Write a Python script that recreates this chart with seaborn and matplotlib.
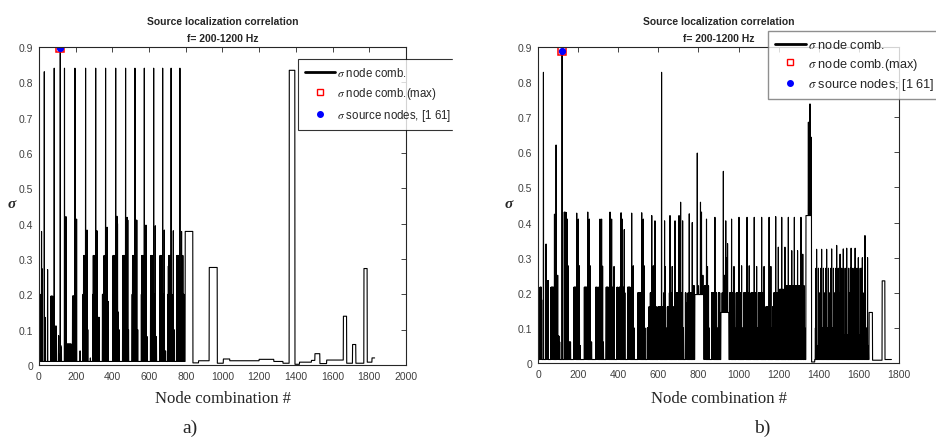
import numpy as np
import pandas as pd
import matplotlib
matplotlib.use('Agg')
import matplotlib.pyplot as plt
from matplotlib.lines import Line2D
from matplotlib.patches import Rectangle
import seaborn as sns

# ---- data ----
# panel a)
a_n = 1830
a_steps = [(0, 797, 0.01), (797, 839, 0.378), (839, 870, 0.006), (870, 928, 0.012),
           (928, 972, 0.276), (972, 1005, 0.005), (1005, 1040, 0.017), (1040, 1200, 0.012),
           (1200, 1280, 0.016), (1280, 1330, 0.01), (1330, 1364, 0.005), (1364, 1395, 0.834),
           (1395, 1420, 0.002), (1420, 1485, 0.008), (1485, 1504, 0.013), (1504, 1531, 0.032),
           (1531, 1568, 0.004), (1568, 1659, 0.014), (1659, 1677, 0.138), (1677, 1709, 0.005),
           (1709, 1727, 0.058), (1727, 1771, 0.005), (1771, 1789, 0.273), (1789, 1815, 0.008),
           (1815, 1830, 0.02)]
a_spikes = [
    (10, 0.2), (14, 0.378), (18, 0.272), (29, 0.83), (33, 0.135), (47, 0.27),
    (65, 0.195), (68, 0.195), (71, 0.195), (75, 0.195),
    (83, 0.84), (89, 0.11), (92, 0.11), (95, 0.11), (107, 0.083), (112, 0.03),
    (119, 0.055), (122, 0.05),
    (139, 0.84), (147, 0.42), (156, 0.06), (162, 0.06), (168, 0.06), (174, 0.06),
    (183, 0.195), (185, 0.195), (187, 0.195), (189, 0.195), (191, 0.195), (193, 0.195),
    (196, 0.84), (199, 0.2), (205, 0.413), (224, 0.04),
    (240, 0.2), (243, 0.31), (245, 0.31), (247, 0.31), (249, 0.31), (251, 0.31),
    (254, 0.84), (257, 0.2), (262, 0.382), (266, 0.1), (280, 0.02),
    (294, 0.2), (296, 0.31), (298, 0.31), (300, 0.31), (302, 0.31), (304, 0.31), (306, 0.31),
    (309, 0.84), (312, 0.2), (316, 0.38), (320, 0.135), (324, 0.135), (328, 0.135),
    (346, 0.2), (348, 0.2), (350, 0.2), (352, 0.2), (355, 0.31), (357, 0.31), (359, 0.31),
    (361, 0.31), (363, 0.84), (366, 0.2), (371, 0.39), (373, 0.18), (375, 0.18), (377, 0.18),
    (402, 0.2), (404, 0.31), (406, 0.31), (408, 0.31), (410, 0.31), (412, 0.31), (414, 0.31),
    (416, 0.31), (418, 0.84), (421, 0.2), (425, 0.421), (428, 0.4), (432, 0.15), (436, 0.1),
    (456, 0.2), (458, 0.31), (460, 0.31), (462, 0.31), (464, 0.31), (466, 0.31), (468, 0.31),
    (470, 0.31), (472, 0.84), (476, 0.2), (480, 0.418), (484, 0.41), (488, 0.1),
    (508, 0.2), (510, 0.31), (512, 0.31), (514, 0.31), (516, 0.31), (518, 0.31), (520, 0.31),
    (523, 0.84), (526, 0.2), (529, 0.41), (533, 0.41), (538, 0.1),
    (558, 0.2), (560, 0.31), (562, 0.31), (564, 0.31), (566, 0.31), (568, 0.31), (570, 0.31),
    (574, 0.84), (577, 0.2), (583, 0.396), (590, 0.08),
    (608, 0.2), (610, 0.31), (612, 0.31), (614, 0.31), (616, 0.31), (618, 0.31), (620, 0.31),
    (622, 0.31), (625, 0.84), (628, 0.2), (634, 0.394), (640, 0.08),
    (658, 0.2), (660, 0.31), (662, 0.31), (664, 0.31), (666, 0.31), (668, 0.31), (670, 0.31),
    (674, 0.84), (677, 0.2), (683, 0.382), (690, 0.04),
    (703, 0.2), (705, 0.28), (707, 0.31), (709, 0.31), (711, 0.31), (713, 0.31), (715, 0.31),
    (717, 0.31), (720, 0.84), (724, 0.2), (732, 0.38), (736, 0.1),
    (750, 0.2), (752, 0.31), (754, 0.31), (756, 0.31), (758, 0.31), (760, 0.31), (762, 0.31),
    (764, 0.31), (768, 0.84), (771, 0.2), (777, 0.378), (781, 0.31), (784, 0.31), (787, 0.2),
    (790, 0.2)]
a_max = (116, 0.897)

# panel b)
b_n = 1763
b_steps = [(0, 782, 0.01), (782, 827, 0.195), (827, 912, 0.01), (912, 952, 0.144),
           (952, 1336, 0.01), (1336, 1364, 0.42), (1364, 1380, 0.003), (1380, 1651, 0.01),
           (1651, 1668, 0.144), (1668, 1716, 0.008), (1716, 1730, 0.234), (1730, 1763, 0.01)]
b_spikes = [
    (10, 0.216), (12, 0.216), (14, 0.216), (16, 0.216), (18, 0.18), (27, 0.828), (40, 0.339),
    (42, 0.235), (44, 0.235), (46, 0.235), (48, 0.235), (50, 0.235),
    (65, 0.216), (67, 0.216), (69, 0.216), (71, 0.216), (73, 0.216), (75, 0.216), (77, 0.216),
    (82, 0.424), (90, 0.621), (94, 0.077), (96, 0.077), (98, 0.25), (100, 0.077), (102, 0.077),
    (104, 0.077), (108, 0.06),
    (131, 0.43), (135, 0.43), (140, 0.429), (146, 0.41), (150, 0.277), (153, 0.06), (156, 0.06),
    (159, 0.06), (162, 0.06),
    (179, 0.216), (181, 0.216), (183, 0.216), (185, 0.216), (187, 0.216), (189, 0.216),
    (193, 0.427), (197, 0.2), (201, 0.41), (206, 0.277), (210, 0.05),
    (231, 0.216), (233, 0.216), (235, 0.216), (237, 0.216), (239, 0.216), (241, 0.216),
    (243, 0.216), (246, 0.216), (248, 0.43), (252, 0.2), (256, 0.41), (260, 0.277), (264, 0.06),
    (267, 0.06),
    (288, 0.216), (290, 0.216), (292, 0.216), (294, 0.16), (296, 0.16), (298, 0.216),
    (300, 0.216), (304, 0.216), (309, 0.41), (313, 0.2), (317, 0.41), (322, 0.276), (326, 0.06),
    (340, 0.216), (342, 0.216), (344, 0.216), (346, 0.216), (348, 0.216), (350, 0.216),
    (352, 0.2), (355, 0.2), (359, 0.43), (363, 0.2), (367, 0.41), (371, 0.216), (374, 0.216),
    (379, 0.275),
    (394, 0.216), (396, 0.216), (398, 0.203), (400, 0.203), (402, 0.203), (404, 0.216),
    (406, 0.216), (408, 0.216), (410, 0.216), (414, 0.428), (417, 0.216), (420, 0.41),
    (423, 0.216), (426, 0.216), (430, 0.38), (433, 0.2),
    (447, 0.216), (449, 0.216), (451, 0.216), (453, 0.216), (455, 0.216), (457, 0.216),
    (459, 0.216), (462, 0.2), (467, 0.427), (471, 0.2), (475, 0.277), (479, 0.1),
    (498, 0.2), (500, 0.2), (502, 0.2), (504, 0.2), (506, 0.2), (508, 0.2), (510, 0.2),
    (513, 0.2), (517, 0.428), (521, 0.2), (525, 0.41), (529, 0.277), (533, 0.1),
    (545, 0.1), (547, 0.1), (549, 0.1), (551, 0.1), (553, 0.16), (555, 0.16), (557, 0.16),
    (560, 0.2), (563, 0.2), (567, 0.42), (571, 0.2), (575, 0.277), (579, 0.1), (583, 0.405),
    (587, 0.16), (590, 0.16),
    (598, 0.16), (600, 0.16), (602, 0.16), (604, 0.16), (606, 0.16), (608, 0.16), (611, 0.16),
    (616, 0.828), (620, 0.16), (624, 0.16), (627, 0.2), (631, 0.405), (635, 0.275), (639, 0.1),
    (645, 0.16), (647, 0.16), (649, 0.16), (651, 0.16), (653, 0.16), (655, 0.2), (658, 0.42),
    (662, 0.2), (665, 0.2), (669, 0.275), (673, 0.1), (676, 0.16), (679, 0.16), (683, 0.405),
    (687, 0.1),
    (691, 0.2), (693, 0.2), (695, 0.2), (697, 0.2), (699, 0.2), (703, 0.42), (707, 0.2),
    (711, 0.458), (715, 0.2), (718, 0.2), (721, 0.405), (725, 0.1),
    (735, 0.2), (737, 0.2), (739, 0.17), (741, 0.17), (743, 0.17), (745, 0.17), (748, 0.2),
    (751, 0.2), (754, 0.425), (758, 0.2), (762, 0.2), (766, 0.2), (769, 0.4), (773, 0.22),
    (776, 0.22), (779, 0.22),
    (794, 0.598), (800, 0.22), (810, 0.458), (815, 0.43), (822, 0.25),
    (830, 0.22), (832, 0.22), (834, 0.22), (836, 0.22), (840, 0.41), (845, 0.275), (850, 0.22),
    (853, 0.1),
    (866, 0.2), (868, 0.2), (870, 0.2), (872, 0.2), (874, 0.2), (877, 0.2), (882, 0.415),
    (886, 0.2), (890, 0.2), (894, 0.1), (900, 0.2), (903, 0.2), (906, 0.2),
    (918, 0.2), (924, 0.546), (930, 0.25), (936, 0.405), (940, 0.3), (945, 0.34),
    (956, 0.2), (958, 0.2), (960, 0.2), (962, 0.2), (965, 0.41), (969, 0.2), (973, 0.2),
    (977, 0.275), (981, 0.1),
    (988, 0.2), (990, 0.2), (992, 0.2), (994, 0.2), (996, 0.2), (998, 0.2), (1002, 0.415),
    (1006, 0.2), (1010, 0.2), (1015, 0.277), (1019, 0.1),
    (1026, 0.2), (1028, 0.2), (1030, 0.2), (1032, 0.2), (1034, 0.2), (1036, 0.2), (1038, 0.2),
    (1042, 0.415), (1046, 0.2), (1049, 0.2), (1053, 0.277), (1057, 0.1),
    (1062, 0.2), (1064, 0.2), (1066, 0.2), (1068, 0.2), (1070, 0.2), (1072, 0.2), (1074, 0.2),
    (1078, 0.415), (1082, 0.2), (1086, 0.2), (1090, 0.275), (1094, 0.1),
    (1099, 0.2), (1101, 0.2), (1103, 0.2), (1105, 0.2), (1107, 0.2), (1109, 0.2), (1111, 0.2),
    (1115, 0.415), (1119, 0.2), (1123, 0.2), (1127, 0.275), (1131, 0.1),
    (1136, 0.16), (1138, 0.16), (1140, 0.16), (1142, 0.16), (1144, 0.16), (1146, 0.16),
    (1148, 0.16), (1152, 0.415), (1155, 0.2), (1158, 0.2), (1161, 0.275), (1165, 0.1),
    (1170, 0.16), (1172, 0.16), (1174, 0.16), (1176, 0.2), (1178, 0.2), (1180, 0.2),
    (1182, 0.2), (1185, 0.417), (1189, 0.2), (1193, 0.2), (1198, 0.33), (1202, 0.1),
    (1205, 0.21), (1207, 0.21), (1209, 0.21), (1211, 0.21), (1215, 0.415), (1219, 0.21),
    (1223, 0.21), (1227, 0.21), (1231, 0.33), (1235, 0.1),
    (1238, 0.22), (1240, 0.22), (1242, 0.22), (1244, 0.22), (1248, 0.415), (1252, 0.22),
    (1256, 0.22), (1260, 0.22), (1265, 0.32), (1268, 0.1),
    (1270, 0.22), (1272, 0.22), (1274, 0.22), (1278, 0.415), (1282, 0.22), (1286, 0.22),
    (1290, 0.22), (1294, 0.32), (1297, 0.1),
    (1300, 0.22), (1302, 0.22), (1304, 0.22), (1307, 0.22), (1311, 0.415), (1315, 0.22),
    (1318, 0.22), (1320, 0.31), (1324, 0.22), (1327, 0.22), (1330, 0.1),
    (1348, 0.686), (1352, 0.6), (1356, 0.738), (1360, 0.55), (1363, 0.643),
    (1383, 0.1), (1386, 0.27), (1389, 0.324), (1393, 0.05), (1398, 0.27), (1402, 0.2),
    (1407, 0.06), (1410, 0.27), (1414, 0.324), (1418, 0.1), (1423, 0.27), (1427, 0.2),
    (1431, 0.06), (1435, 0.27), (1439, 0.324), (1443, 0.1), (1448, 0.27), (1452, 0.2),
    (1456, 0.06), (1460, 0.27), (1464, 0.325), (1468, 0.1), (1473, 0.27), (1477, 0.2),
    (1481, 0.06), (1485, 0.27), (1489, 0.335), (1493, 0.1), (1497, 0.27), (1501, 0.2),
    (1506, 0.31), (1510, 0.1), (1514, 0.27), (1518, 0.2), (1522, 0.325), (1526, 0.08),
    (1531, 0.27), (1535, 0.2), (1539, 0.327), (1543, 0.08), (1548, 0.27), (1552, 0.2),
    (1557, 0.27), (1561, 0.327), (1565, 0.08), (1570, 0.27), (1574, 0.2), (1578, 0.27),
    (1581, 0.327), (1585, 0.08), (1590, 0.27), (1594, 0.2), (1597, 0.3), (1601, 0.08),
    (1606, 0.27), (1610, 0.2), (1614, 0.27), (1617, 0.3), (1621, 0.08), (1625, 0.2),
    (1630, 0.363), (1634, 0.07), (1638, 0.1), (1643, 0.3), (1647, 0.05)]
b_max = (120, 0.888)

a_xticks = [0, 200, 400, 600, 800, 1000, 1200, 1400, 1600, 1800, 2000]
b_xticks = [0, 200, 400, 600, 800, 1000, 1200, 1400, 1600, 1800]
y_ticks = [0, 0.1, 0.2, 0.3, 0.4, 0.5, 0.6, 0.7, 0.8, 0.9]
y_ticklabels = ['0', '0.1', '0.2', '0.3', '0.4', '0.5', '0.6', '0.7', '0.8', '0.9']
title_txt = 'Source localization correlation\nf= 200-1200 Hz'
labels = ['$\\sigma$ node comb.', '$\\sigma$ node comb.(max)', '$\\sigma$ source nodes, [1 61]']


def build(n, steps, spikes, peak):
    y = np.zeros(n)
    for s, e, lv in steps:
        y[s:e] = lv
    for x, h in spikes:
        y[x] = h
    y[peak[0]] = peak[1]
    return pd.DataFrame({'node': np.arange(n), 'sigma': y})


sns.set_style('white')
plt.rcParams['font.family'] = ['Liberation Sans', 'DejaVu Sans']
plt.rcParams['mathtext.fontset'] = 'stix'

fig = plt.figure(figsize=(9.37, 4.39), dpi=100)
ax_a = fig.add_axes([0.0416, 0.1663, 0.3917, 0.7244])
ax_b = fig.add_axes([0.5742, 0.1708, 0.3853, 0.7198])

panels = [(ax_a, build(a_n, a_steps, a_spikes, a_max), a_max, a_xticks, 2000),
          (ax_b, build(b_n, b_steps, b_spikes, b_max), b_max, b_xticks, 1800)]

for ax, df, peak, xt, xmax in panels:
    sns.lineplot(data=df, x='node', y='sigma', ax=ax, color='k', linewidth=0.8,
                 estimator=None, sort=False)
    ax.plot(peak[0], peak[1], 's', ms=5.5, mfc='none', mec='red', mew=1.1)
    ax.plot(peak[0], peak[1], 'o', ms=4.2, color='blue')
    ax.set_xlim(0, xmax)
    ax.set_ylim(0, 0.9)
    ax.set_xticks(xt)
    ax.set_yticks(y_ticks)
    ax.set_yticklabels(y_ticklabels)
    ax.set_xlabel('')
    ax.set_ylabel('')
    ax.tick_params(direction='in', length=3.5, width=0.6, top=True, right=True,
                   labelsize=7.5, labelcolor='0.25', pad=4, color='0.15')
    for sp in ax.spines.values():
        sp.set_visible(True)
        sp.set_color('0.15')
        sp.set_linewidth(0.8)
    ax.set_title(title_txt, fontsize=7.5, fontweight='bold', pad=4, linespacing=1.9)

handles = [Line2D([], [], color='k', lw=2),
           Line2D([], [], ls='none', marker='s', ms=5, mfc='none', mec='red', mew=1),
           Line2D([], [], ls='none', marker='o', ms=4, color='blue')]

leg_a = ax_a.legend(handles, labels, loc='upper left', bbox_to_anchor=(0.318, 0.863),
                    bbox_transform=fig.transFigure, fontsize=8.3, frameon=True, fancybox=False,
                    edgecolor='k', handlelength=2.6, handletextpad=0.2, labelspacing=0.5,
                    borderpad=0.6, borderaxespad=0)
leg_a.get_frame().set_linewidth(0.8)
# the right legend runs past the edge of the picture
leg_b = ax_b.legend(handles, labels, loc='upper left', bbox_to_anchor=(0.8196, 0.927),
                    bbox_transform=fig.transFigure, fontsize=9.2, frameon=True, fancybox=False,
                    edgecolor='0.45', handlelength=2.4, handletextpad=0.2, labelspacing=0.35,
                    borderpad=0.55, borderaxespad=0)
leg_b.get_frame().set_linewidth(1.0)

# the left legend is cut off where the first panel ends
fig.patches.append(Rectangle((453 / 937, 1 - 135 / 439), 40 / 937, 85 / 439,
                             transform=fig.transFigure, color='white', zorder=10))

for xc in (223 / 937, 719 / 937):
    fig.text(xc, 1 - 399 / 439, 'Node combination #', ha='center', va='center',
             fontsize=12, family='Liberation Serif')
fig.text(12 / 937, 1 - 205 / 439, 'σ', ha='center', va='center', fontsize=11,
         family='Liberation Serif', style='italic', weight='bold')
fig.text(509 / 937, 1 - 205 / 439, 'σ', ha='center', va='center', fontsize=11,
         family='Liberation Serif', style='italic', weight='bold')
fig.text(190 / 937, 1 - 428 / 439, 'a)', ha='center', va='center', fontsize=14,
         family='Liberation Serif')
fig.text(762 / 937, 1 - 428 / 439, 'b)', ha='center', va='center', fontsize=14,
         family='Liberation Serif')

fig.savefig('out.png', dpi=100)
